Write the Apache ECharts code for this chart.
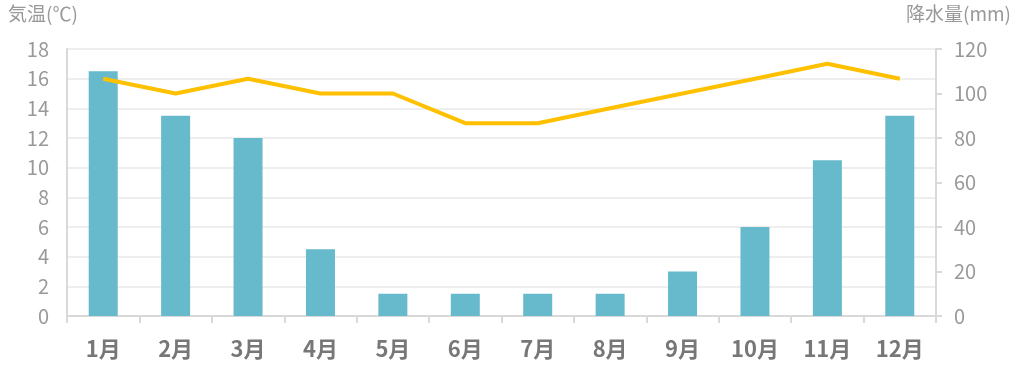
<!DOCTYPE html>
<html><head><meta charset="utf-8">
<script src="https://cdn.jsdelivr.net/npm/echarts@6/dist/echarts.min.js"></script>
<style>html,body{margin:0;padding:0;background:#fff}#c{width:1014px;height:370px}</style>
</head><body><div id="c"></div>
<script>
const months = ['1月','2月','3月','4月','5月','6月','7月','8月','9月','10月','11月','12月'];
const precipitation = [110, 90, 80, 30, 10, 10, 10, 10, 20, 40, 70, 90];
const temperature = [16, 15, 16, 15, 15, 13, 13, 14, 15, 16, 17, 16];
const tempTicks = {min: 0, max: 18, interval: 2};
const rainTicks = {min: 0, max: 120, interval: 20};

const font = '"Noto Sans CJK JP", "Noto Sans", sans-serif';
const chart = echarts.init(document.getElementById('c'), null, {renderer: 'canvas'});
chart.setOption({
  animation: false,
  grid: {left: 67, right: 78, top: 49, bottom: 54, containLabel: false},
  graphic: [
    {type: 'text', left: 8, top: 4, style: {text: '気温(℃)', fill: '#999', font: '19px ' + font}},
    {type: 'text', right: 3, top: 4, style: {text: '降水量(mm)', fill: '#999', font: '19px ' + font}}
  ],
  xAxis: {
    type: 'category', data: months,
    axisLine: {lineStyle: {color: '#d9d9d9', width: 2}},
    axisTick: {show: true, length: 7, lineStyle: {color: '#d9d9d9', width: 2}},
    axisLabel: {color: '#777', fontSize: 22, fontWeight: 'bold', fontFamily: font, margin: 22}
  },
  yAxis: [
    {type: 'value', min: tempTicks.min, max: tempTicks.max, interval: tempTicks.interval,
     axisLine: {show: true, lineStyle: {color: '#d9d9d9', width: 2}},
     axisTick: {show: false},
     axisLabel: {color: '#999', fontSize: 20, fontFamily: font, margin: 18},
     splitLine: {lineStyle: {color: '#eeeeee', width: 2}}},
    {type: 'value', min: rainTicks.min, max: rainTicks.max, interval: rainTicks.interval, position: 'right',
     axisLine: {show: true, lineStyle: {color: '#d9d9d9', width: 2}},
     axisTick: {show: true, length: 6, lineStyle: {color: '#d9d9d9', width: 2}},
     axisLabel: {color: '#999', fontSize: 20, fontFamily: font, margin: 18},
     splitLine: {show: false}}
  ],
  series: [
    {type: 'bar', yAxisIndex: 1, data: precipitation, barWidth: 29,
     itemStyle: {color: '#67b9cc'}},
    {type: 'line', yAxisIndex: 0, data: temperature, symbol: 'none',
     lineStyle: {color: '#ffc000', width: 4}, z: 5}
  ]
});
</script></body></html>
